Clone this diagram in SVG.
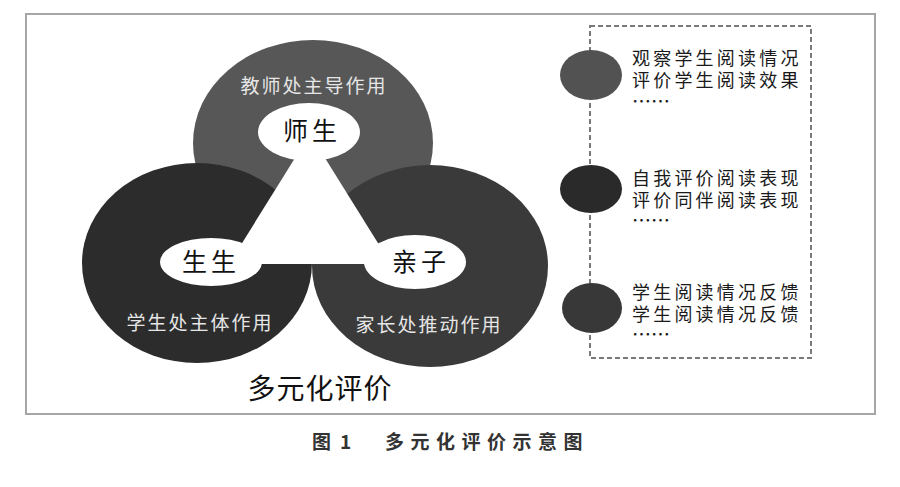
<svg xmlns="http://www.w3.org/2000/svg" width="900" height="487" viewBox="0 0 900 487">
<style>
text{font-family:"Noto Sans CJK SC","Noto Sans",sans-serif;}
.lbl{font-size:19px;fill:#e6e6e6;text-anchor:middle;letter-spacing:2px;}
.hole{fill:#ffffff;}
.core{font-size:25px;fill:#111;text-anchor:middle;letter-spacing:4px;}
.item{font-size:18px;fill:#1a1a1a;letter-spacing:3.2px;}
.dots{font-size:19px;fill:#1a1a1a;}
.cap{font-size:19px;fill:#333;font-weight:bold;}
</style>
<rect x="0" y="0" width="900" height="487" fill="#ffffff"/>
<rect x="26" y="14" width="849" height="400" fill="#ffffff" stroke="#a6a6a6" stroke-width="2"/>

<g id="shape-teacher">
<ellipse cx="313" cy="143" rx="120" ry="103" fill="#575757"/>
</g>
<g id="shape-student">
<ellipse cx="197" cy="263" rx="115" ry="100" fill="#2c2c2c"/>
</g>
<g id="shape-parent">
<ellipse cx="430" cy="266" rx="118" ry="101" fill="#3a3a3a"/>
</g>
<g id="center-channel">
<polygon class="hole" points="300,150 320,150 391,264 229,264"/>
</g>
<g id="node-shisheng">
<ellipse class="hole" cx="309" cy="132" rx="51" ry="29"/>
<text class="core" x="312" y="140">师生</text>
</g>
<g id="node-shengsheng">
<ellipse class="hole" cx="211" cy="262" rx="51" ry="24"/>
<text class="core" x="211" y="271">生生</text>
</g>
<g id="node-qinzi">
<ellipse class="hole" cx="415" cy="262" rx="51" ry="27"/>
<text class="core" x="421" y="271">亲子</text>
</g>
<text class="lbl" x="314" y="93">教师处主导作用</text>
<text class="lbl" x="200" y="330">学生处主体作用</text>
<text class="lbl" x="429" y="332">家长处推动作用</text>
<text x="320" y="399" style="font-size:28px;fill:#111;text-anchor:middle;letter-spacing:1px;">多元化评价</text>

<g id="connectors">
<rect x="590" y="26" width="221" height="332" fill="none" stroke="#7a7a7a" stroke-width="2" stroke-dasharray="5,3"/>
</g>
<g id="item-1">
<ellipse cx="591" cy="75" rx="31" ry="25" fill="#525252"/>
<text class="item" x="632" y="65">观察学生阅读情况</text>
<text class="item" x="632" y="87">评价学生阅读效果</text>
<text class="dots" x="632" y="109">……</text>
</g>
<g id="item-2">
<ellipse cx="591" cy="189" rx="31" ry="24" fill="#2a2a2a"/>
<text class="item" x="632" y="185">自我评价阅读表现</text>
<text class="item" x="632" y="207">评价同伴阅读表现</text>
<text class="dots" x="632" y="228">……</text>
</g>
<g id="item-3">
<ellipse cx="592" cy="308" rx="30" ry="25" fill="#383838"/>
<text class="item" x="632" y="299">学生阅读情况反馈</text>
<text class="item" x="632" y="321">学生阅读情况反馈</text>
<text class="dots" x="632" y="342">……</text>
</g>

<text class="cap" y="449"><tspan x="312">图</tspan><tspan x="340">1</tspan><tspan x="385" style="letter-spacing:6.5px">多元化评价示意图</tspan></text>
</svg>
